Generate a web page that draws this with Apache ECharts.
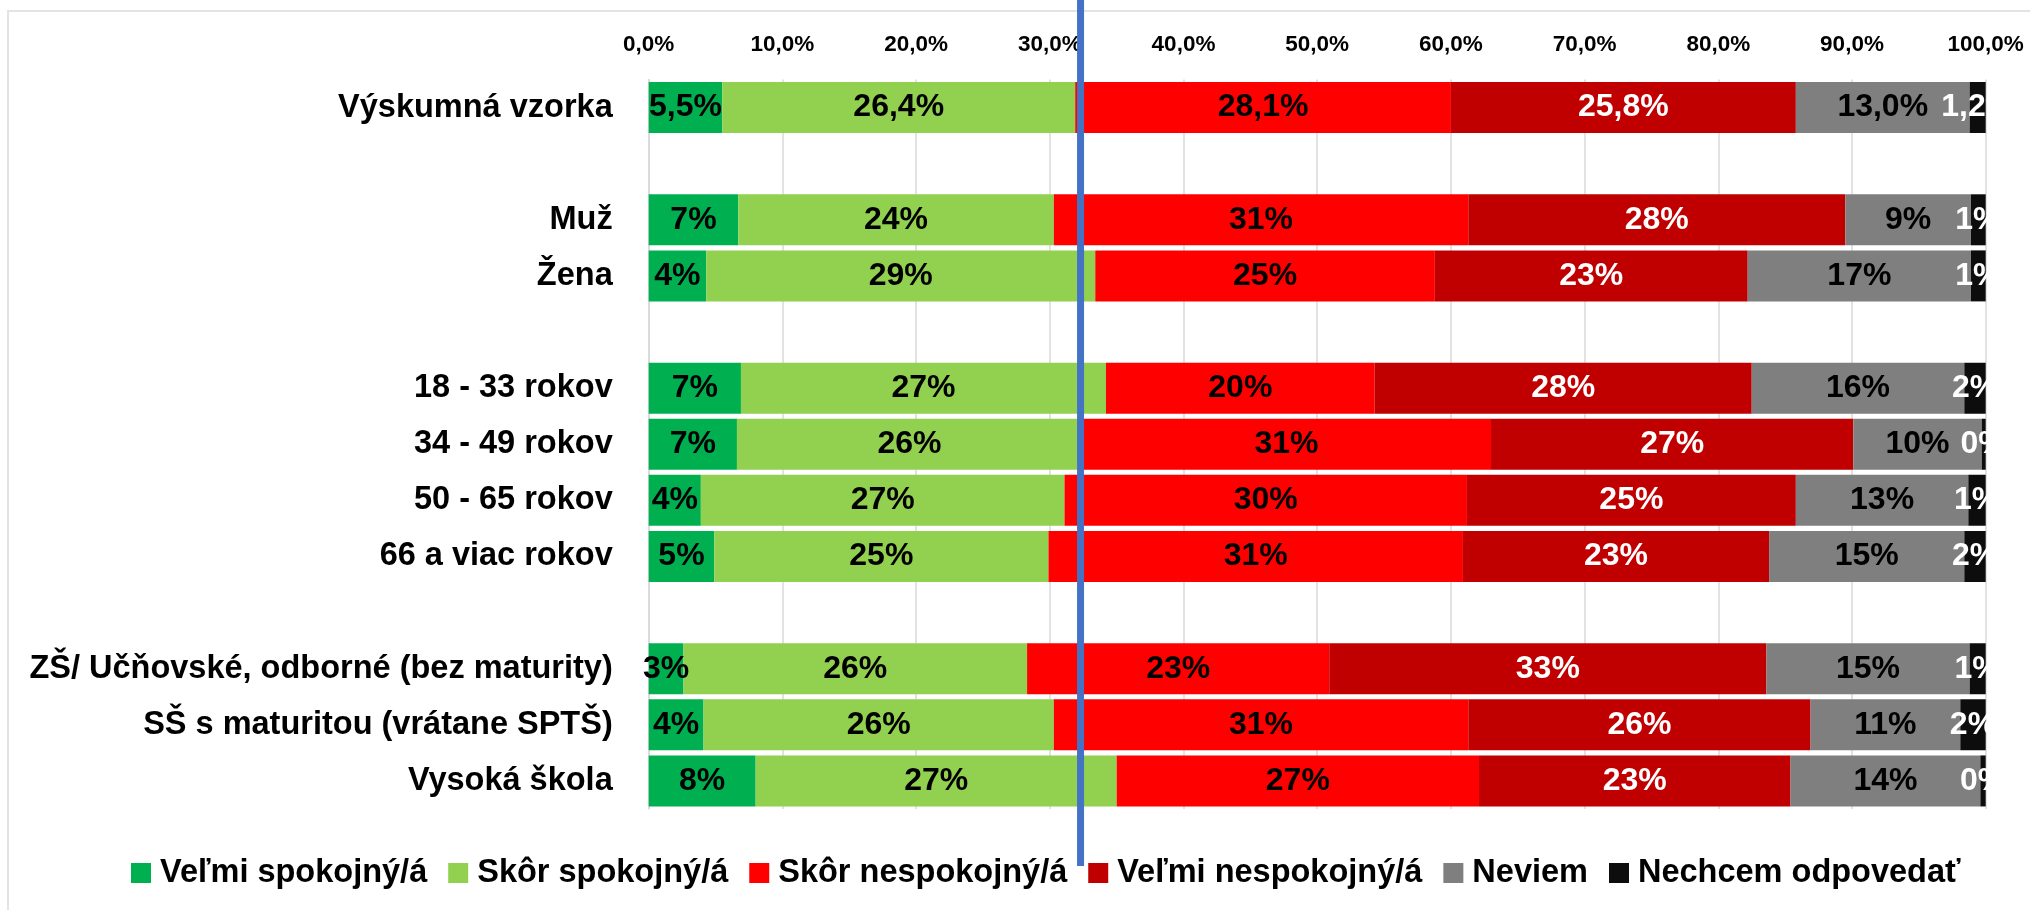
<!DOCTYPE html>
<html>
<head>
<meta charset="utf-8">
<script src="https://cdn.jsdelivr.net/npm/echarts@6/dist/echarts.min.js"></script>
<style>
  html, body { margin: 0; padding: 0; background: #fff; }
  #chart { width: 2030px; height: 910px; }
</style>
</head>
<body>
<div id="chart"></div>
<script>
// rows from top to bottom, '' = empty spacer row
const categories = [
  "Výskumná vzorka", "",
  "Muž", "Žena", "",
  "18 - 33 rokov", "34 - 49 rokov", "50 - 65 rokov", "66 a viac rokov", "",
  "ZŠ/ Učňovské, odborné (bez maturity)", "SŠ s maturitou (vrátane SPTŠ)", "Vysoká škola"
];
// decimals shown in the data labels of each row
const rowDecimals = [1, 0, 0, 0, 0, 0, 0, 0, 0, 0, 0, 0, 0];

const seriesNames = [
  "Veľmi spokojný/á", "Skôr spokojný/á", "Skôr nespokojný/á",
  "Veľmi nespokojný/á", "Neviem", "Nechcem odpovedať"
];
const veryHappy   = [5.5, null, 6.7, 4.3, null, 6.9, 6.6, 3.9, 4.9, null, 2.6, 4.1, 8.0];
const ratherHappy = [26.4, null, 23.6, 29.1, null, 27.3, 25.8, 27.2, 25.0, null, 25.7, 26.2, 27.0];
const ratherUnhappy = [28.1, null, 31.0, 25.4, null, 20.1, 30.6, 30.1, 31.0, null, 22.6, 31.0, 27.1];
const veryUnhappy = [25.8, null, 28.2, 23.4, null, 28.2, 27.1, 24.6, 22.9, null, 32.7, 25.6, 23.3];
const dontKnow    = [13.0, null, 9.4, 16.7, null, 15.9, 9.6, 12.9, 14.6, null, 15.2, 11.2, 14.2];
const noAnswer    = [1.2, null, 1.1, 1.1, null, 1.6, 0.3, 1.3, 1.6, null, 1.2, 1.9, 0.4];

const xTicks = [0, 10, 20, 30, 40, 50, 60, 70, 80, 90, 100];
const markerAt = 32.3; // blue reference line

const colors = ["#00B050", "#92D050", "#FF0000", "#C00000", "#7F7F7F", "#0D0D0D"];
const labelColors = ["#000", "#000", "#000", "#fff", "#000", "#fff"];
const allValues = [veryHappy, ratherHappy, ratherUnhappy, veryUnhappy, dontKnow, noAnswer];

const FONT = "'Liberation Sans', Arial, sans-serif";

const chartDom = document.getElementById("chart");
const myChart = echarts.init(chartDom, null, { renderer: "canvas" });

const option = {
  backgroundColor: "#fff",
  animation: false,
  grid: {
    left: 648.7,
    right: 2030 - 1985.7,
    top: 79.5,
    bottom: 910 - 809,
    containLabel: false
  },
  legend: {
    data: seriesNames,
    left: 126,
    top: 850,
    itemWidth: 20,
    itemHeight: 20,
    itemGap: 21,
    icon: "rect",
    textStyle: {
      fontFamily: FONT,
      fontSize: 32.5,
      fontWeight: "bold",
      color: "#000",
      lineHeight: 36,
      padding: [0, 0, 0, 4]
    }
  },
  xAxis: {
    type: "value",
    position: "top",
    min: 0,
    max: 100,
    interval: 10,
    axisLine: { show: false },
    axisTick: { show: false },
    splitLine: { show: true, lineStyle: { color: "#d9d9d9", width: 1.5 } },
    axisLabel: {
      margin: 23,
      fontFamily: FONT,
      fontSize: 22.5,
      fontWeight: "bold",
      color: "#000",
      formatter: v => xTicks.includes(v) ? v.toFixed(1).replace(".", ",") + "%" : ""
    }
  },
  yAxis: {
    type: "category",
    inverse: true,
    data: categories,
    axisLine: { show: true, lineStyle: { color: "#d9d9d9", width: 1.5 } },
    axisTick: { show: false },
    axisLabel: {
      margin: 36,
      fontFamily: FONT,
      fontSize: 32.5,
      fontWeight: "bold",
      color: "#000"
    }
  },
  series: seriesNames.map((name, i) => ({
    name: name,
    type: "bar",
    stack: "Total",
    data: allValues[i],
    barWidth: 51,
    itemStyle: { color: colors[i] },
    label: {
      show: true,
      position: "inside",
      fontFamily: FONT,
      fontSize: 32,
      fontWeight: "bold",
      color: labelColors[i],
      textBorderWidth: 0,
      formatter: p => p.value == null ? "" :
        p.value.toFixed(rowDecimals[p.dataIndex]).replace(".", ",") + "%"
    },
    labelLayout: { hideOverlap: false }
  }))
};

myChart.setOption(option);

// chart border and the blue marker line, placed from the axis scale
const markerX = myChart.convertToPixel({ xAxisIndex: 0 }, markerAt);
myChart.setOption({
  graphic: [
    {
      type: "rect",
      shape: { x: 8, y: 11, width: 2040, height: 920 },
      style: { fill: "none", stroke: "#e3e3e3", lineWidth: 2 },
      z: 0,
      silent: true
    },
    {
      type: "line",
      shape: { x1: markerX, y1: 0, x2: markerX, y2: 866 },
      style: { stroke: "#4472C4", lineWidth: 7 },
      z: 100,
      zlevel: 1,
      silent: true
    }
  ]
});

window.addEventListener("resize", () => myChart.resize());
</script>
</body>
</html>
